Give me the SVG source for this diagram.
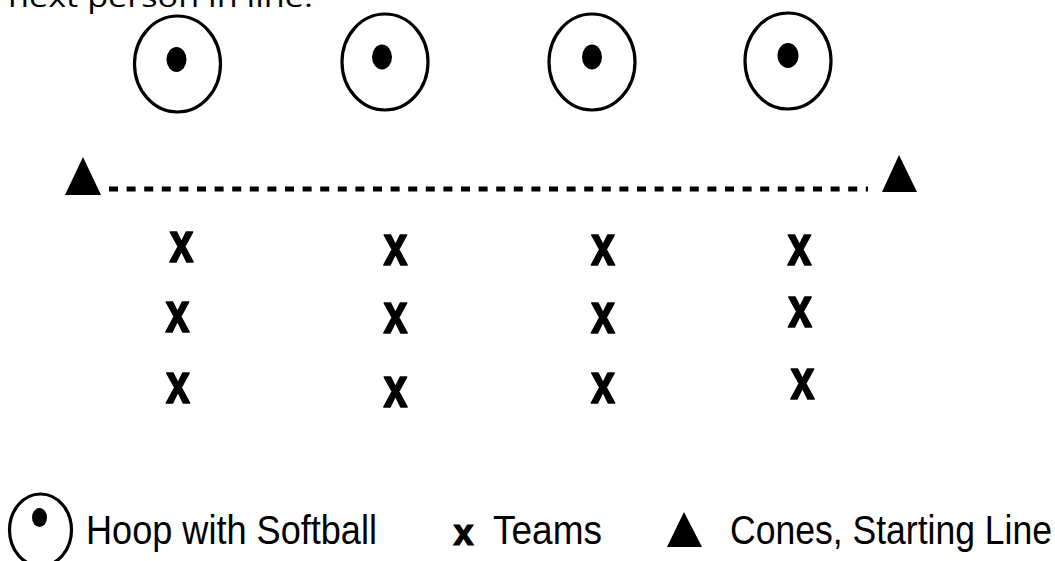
<svg xmlns="http://www.w3.org/2000/svg" width="1055" height="561" viewBox="0 0 1055 561">
<style>
.hoop{fill:none;stroke:#000;stroke-width:3.2}
.dot{fill:#000}
.cone{fill:#000}
.tx{font-family:"Liberation Sans",Arial,sans-serif;font-weight:bold;font-size:54px;fill:#000;stroke:#000;stroke-width:1.6;stroke-linejoin:round;text-anchor:middle}
.lbl{font-family:"Liberation Sans",Arial,sans-serif;font-size:41px;fill:#000}
.top{font-family:"Open Sans","Liberation Sans",sans-serif;font-size:28px;fill:#000}
</style>
<rect width="1055" height="561" fill="#fff"/>
<text class="top" x="8" y="7" textLength="305" lengthAdjust="spacingAndGlyphs">next person in line.</text>
<g id="hoop1"><ellipse class="hoop" cx="177.5" cy="64" rx="43" ry="48"/><ellipse class="dot" cx="176.5" cy="59.5" rx="10" ry="12.5"/></g>
<g id="hoop2"><ellipse class="hoop" cx="385" cy="62" rx="43" ry="48"/><ellipse class="dot" cx="382" cy="57" rx="10" ry="12.5"/></g>
<g id="hoop3"><ellipse class="hoop" cx="592" cy="62" rx="43" ry="48"/><ellipse class="dot" cx="592" cy="57" rx="10" ry="12.5"/></g>
<g id="hoop4"><ellipse class="hoop" cx="788" cy="61" rx="43" ry="48"/><ellipse class="dot" cx="788" cy="55.5" rx="10.5" ry="12.5"/></g>
<g id="connectors">
<line x1="109" y1="189" x2="868" y2="189" stroke="#000" stroke-width="5" stroke-dasharray="9 8.6"/>
</g>
<g id="cone-left"><polygon class="cone" points="83,157 101,195 65,195"/></g>
<g id="cone-right"><polygon class="cone" points="899,155 917,192 882,192"/></g>
<g id="team1">
<text class="tx" transform="translate(181.5,262) scale(0.8,1.05)">x</text>
<text class="tx" transform="translate(177.5,332) scale(0.8,1.05)">x</text>
<text class="tx" transform="translate(178,403) scale(0.8,1.05)">x</text>
</g>
<g id="team2">
<text class="tx" transform="translate(395.5,265) scale(0.8,1.05)">x</text>
<text class="tx" transform="translate(395.5,333) scale(0.8,1.05)">x</text>
<text class="tx" transform="translate(395.5,407) scale(0.8,1.05)">x</text>
</g>
<g id="team3">
<text class="tx" transform="translate(603,265) scale(0.8,1.05)">x</text>
<text class="tx" transform="translate(603,333) scale(0.8,1.05)">x</text>
<text class="tx" transform="translate(603,403) scale(0.8,1.05)">x</text>
</g>
<g id="team4">
<text class="tx" transform="translate(799.5,265) scale(0.8,1.05)">x</text>
<text class="tx" transform="translate(800,327) scale(0.8,1.05)">x</text>
<text class="tx" transform="translate(802.5,399) scale(0.8,1.05)">x</text>
</g>
<g id="legend">
<ellipse class="hoop" cx="40.5" cy="530" rx="31" ry="36"/>
<ellipse class="dot" cx="39.5" cy="517.5" rx="7.5" ry="9.5"/>
<text class="lbl" x="86" y="544" textLength="291" lengthAdjust="spacingAndGlyphs">Hoop with Softball</text>
<text x="463.5" y="545" style="font-family:'Liberation Sans',Arial,sans-serif;font-weight:bold;font-size:36px;text-anchor:middle;stroke:#000;stroke-width:1.2">x</text>
<text class="lbl" x="493" y="544" textLength="109" lengthAdjust="spacingAndGlyphs">Teams</text>
<polygon class="cone" points="684,512 702,547 667,547"/>
<text class="lbl" x="730" y="544" textLength="322" lengthAdjust="spacingAndGlyphs">Cones, Starting Line</text>
</g>
</svg>
